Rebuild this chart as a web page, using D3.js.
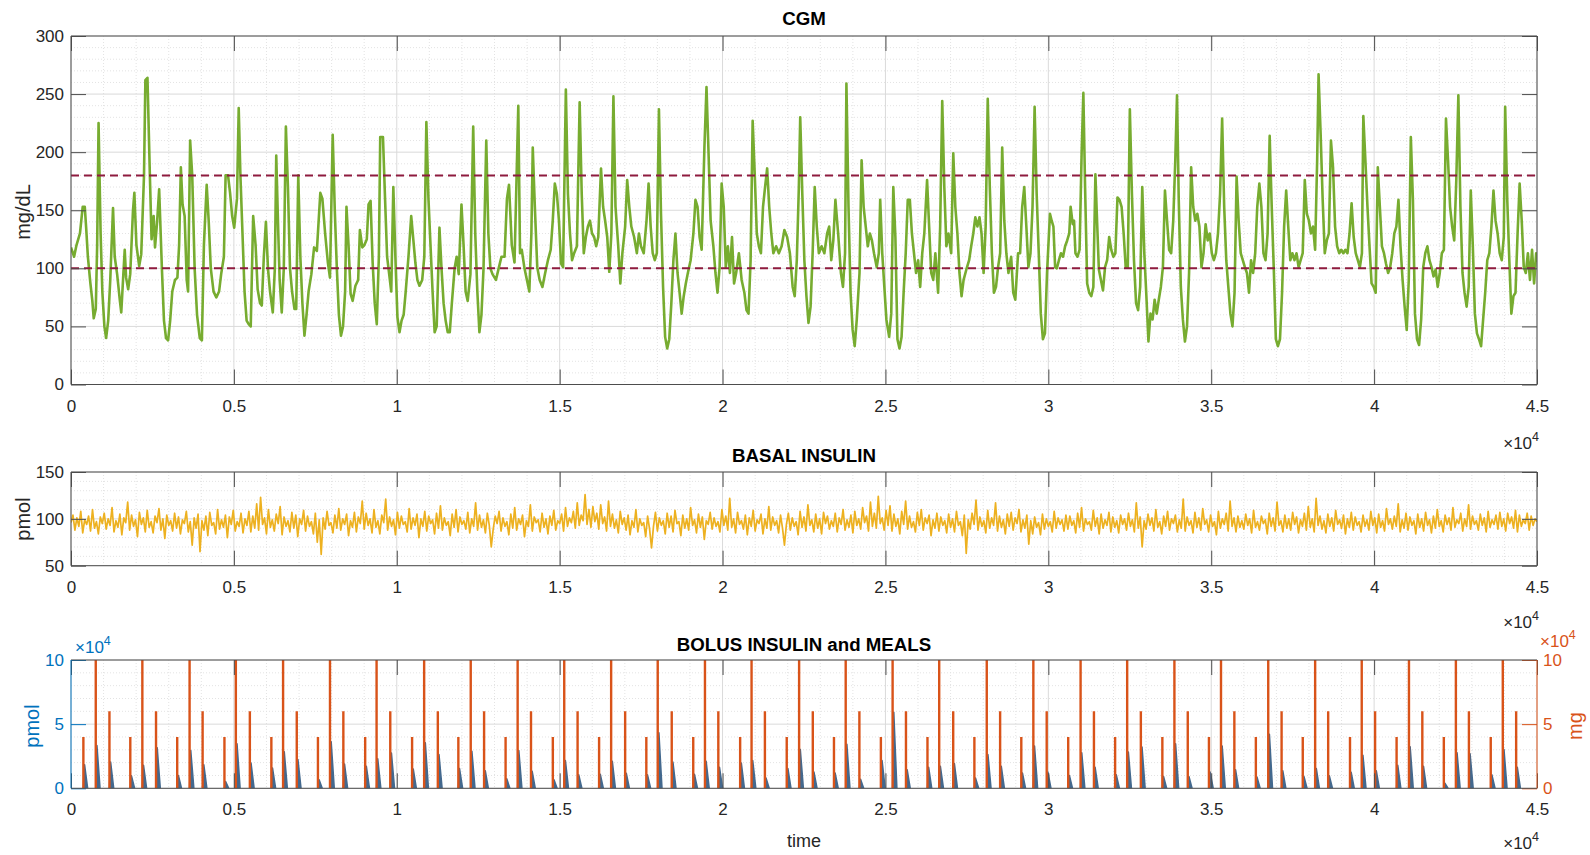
<!DOCTYPE html>
<html>
<head>
<meta charset="utf-8">
<script src="https://cdn.jsdelivr.net/npm/d3@7"></script>
<style>
  body { margin: 0; background: #fff; }
  svg text { font-family: "Liberation Sans", Arial, Helvetica, sans-serif; }
</style>
</head>
<body>
<script>
// ---- data (time in minutes) ----
var tMax = 45000;
var xTicks = [0, 5000, 10000, 15000, 20000, 25000, 30000, 35000, 40000, 45000];
var cgmTicks = [0, 50, 100, 150, 200, 250, 300];
var basalTicks = [50, 100, 150];
var bolusTicks = [0, 50000, 100000];
var targetRange = [100, 180];

// CGM trace, [time, mg/dL]
var cgm = [[0,118],[95,110],[169,120],[275,130],[359,153],[423,153],[465,135],[518,110],[592,88],[655,72],[698,57],[761,65],[803,120],[846,225],[909,130],[962,80],[1025,50],[1078,40],[1142,55],[1205,90],[1290,152],[1342,110],[1416,95],[1501,72],[1543,62],[1607,95],[1649,116],[1691,92],[1755,82],[1818,95],[1903,150],[1945,165],[2008,120],[2093,102],[2156,112],[2241,180],[2283,262],[2347,264],[2421,180],[2473,125],[2537,145],[2579,118],[2643,140],[2706,168],[2790,100],[2854,55],[2917,40],[2981,38],[3044,55],[3108,80],[3192,90],[3266,92],[3319,120],[3372,187],[3425,155],[3488,145],[3552,90],[3594,80],[3657,210],[3721,180],[3795,100],[3869,60],[3953,40],[4017,38],[4080,120],[4165,172],[4228,140],[4291,100],[4376,80],[4461,75],[4545,80],[4609,95],[4693,110],[4746,180],[4820,180],[4883,165],[4947,145],[5010,135],[5095,160],[5148,238],[5200,180],[5264,130],[5327,80],[5391,55],[5454,52],[5517,50],[5592,145],[5666,120],[5729,82],[5803,70],[5856,68],[5919,110],[5983,140],[6046,100],[6110,80],[6194,62],[6257,100],[6300,197],[6363,130],[6405,90],[6469,62],[6532,100],[6596,222],[6659,170],[6722,100],[6786,80],[6860,65],[6913,65],[6976,180],[7040,110],[7103,70],[7166,42],[7230,60],[7293,80],[7378,95],[7462,118],[7547,115],[7653,165],[7716,160],[7801,130],[7885,105],[7949,92],[8033,215],[8097,150],[8160,100],[8223,60],[8287,42],[8350,50],[8414,80],[8456,153],[8519,120],[8583,78],[8646,72],[8731,85],[8815,90],[8868,133],[8942,118],[9006,120],[9080,125],[9133,155],[9196,158],[9259,105],[9323,70],[9386,52],[9450,110],[9492,213],[9576,213],[9640,160],[9703,110],[9767,95],[9830,80],[9894,170],[9957,110],[10020,58],[10084,45],[10147,55],[10211,60],[10274,80],[10359,110],[10443,145],[10507,125],[10570,105],[10633,90],[10697,85],[10781,90],[10845,110],[10908,226],[10972,160],[11035,120],[11099,80],[11162,45],[11225,50],[11310,135],[11373,100],[11437,70],[11500,55],[11564,45],[11627,45],[11691,70],[11775,100],[11838,110],[11902,95],[11986,155],[12050,120],[12113,80],[12177,72],[12261,95],[12346,222],[12409,130],[12473,80],[12536,45],[12599,60],[12663,100],[12747,210],[12811,130],[12874,100],[12938,95],[13043,90],[13128,100],[13213,110],[13308,110],[13382,160],[13445,172],[13530,120],[13614,105],
  [13730,240],[13783,113],[13836,116],[13920,100],[13995,90],[14069,80],[14132,130],[14174,204],[14238,153],[14312,101],[14386,90],[14471,84],[14555,96],[14640,107],[14725,116],[14788,141],[14851,173],[14915,164],[14978,141],[15042,104],[15105,101],[15190,254],[15254,164],[15317,130],[15380,107],[15444,113],[15529,119],[15613,243],[15677,164],[15740,113],[15804,127],[15867,136],[15931,141],[15994,130],[16058,127],[16121,119],[16185,127],[16269,186],[16333,153],[16396,141],[16460,127],[16523,97],[16587,130],[16650,248],[16714,153],[16798,119],[16862,87],[16925,113],[17010,136],[17073,176],[17137,153],[17200,136],[17285,127],[17370,113],[17433,130],[17496,119],[17581,113],[17666,141],[17729,173],[17793,136],[17856,113],[17920,107],[17983,113],[18047,237],[18110,147],[18174,84],[18237,41],[18301,31],[18364,39],[18428,70],[18491,107],[18554,130],[18618,96],[18681,79],[18745,61],[18808,76],[18872,87],[18935,96],[19020,107],[19105,130],[19168,159],[19232,153],[19295,127],[19359,116],[19443,204],[19507,256],[19570,199],[19634,141],[19718,119],[19782,96],[19845,79],[19909,101],[19972,173],[20036,153],[20099,101],[20163,119],[20226,96],[20290,127],[20353,87],[20417,96],[20501,113],[20586,90],[20670,79],[20734,64],[20797,61],[20861,107],[20924,227],[20988,181],[21051,130],[21115,119],[21178,113],[21242,153],[21305,170],[21369,186],[21432,153],[21496,130],[21559,113],[21644,119],[21728,113],[21813,119],[21898,133],[21982,127],[22067,113],[22152,84],[22215,76],[22279,107],[22342,170],[22384,230],[22448,164],[22511,107],[22575,76],[22638,53],[22702,67],[22765,113],[22829,170],[22892,136],[22956,113],[23040,119],[23125,113],[23210,130],[23273,136],[23337,107],[23400,124],[23464,159],[23548,130],[23633,96],[23696,84],[23760,113],[23802,259],[23866,153],[23929,79],[23993,47],[24056,33],[24120,56],[24204,96],[24268,193],[24331,153],[24395,136],[24458,119],[24522,130],[24585,124],[24649,113],[24733,101],[24797,113],[24839,159],[24902,113],[24966,84],[25029,56],[25114,41],[25178,61],[25241,170],[25305,127],[25368,39],[25431,31],[25495,41],[25558,79],[25622,113],[25685,159],[25749,159],[25812,130],[25876,113],[25939,96],[26003,107],[26066,84],[26130,113],[26193,130],[26278,176],[26341,136],[26405,96],[26468,90],[26532,113],[26616,79],[26680,136],[26743,244],[26807,170],[26870,119],[26934,130],[27018,113],[27082,199],[27145,153],[27209,130],[27272,96],[27336,76],[27399,90],[27484,99],[27569,107],[27632,119],[27696,130],[27759,144],[27823,136],[27886,144],[27950,130],[28013,96],[28076,136],[28140,246],[28203,170],[28267,113],[28330,79],[28394,84],[28457,101],[28521,113],[28584,204],[28648,141],[28711,113],[28775,96],[28859,110],[28923,79],[28986,73],[29071,113],[29134,113],[29198,153],[29261,170],[29325,136],[29388,101],[29452,113],[29515,153],[29579,239],[29642,164],[29706,113],[29769,61],[29833,39],[29896,44],[29960,96],
  [30050,147],[30103,141],[30156,136],[30209,101],[30261,100],[30325,107],[30388,113],[30452,110],[30515,119],[30579,124],[30642,130],[30684,153],[30748,138],[30790,141],[30832,113],[30896,110],[30959,116],[31022,199],[31075,251],[31128,170],[31192,87],[31255,79],[31318,76],[31382,84],[31445,181],[31488,147],[31551,99],[31614,90],[31678,81],[31741,101],[31805,107],[31868,127],[31931,116],[31995,110],[32058,113],[32122,161],[32185,159],[32249,153],[32312,130],[32375,101],[32439,101],[32502,237],[32566,164],[32629,107],[32693,70],[32756,64],[32819,84],[32883,170],[32946,113],[33010,76],[33073,37],[33136,61],[33200,56],[33263,73],[33327,61],[33390,73],[33454,84],[33517,101],[33580,167],[33644,141],[33707,116],[33771,113],[33834,141],[33897,193],[33950,249],[34003,159],[34067,84],[34130,56],[34193,37],[34257,50],[34320,96],[34384,187],[34447,153],[34511,141],[34574,147],[34637,136],[34701,101],[34764,113],[34828,138],[34891,124],[34954,130],[35018,113],[35081,107],[35145,113],[35208,130],[35272,164],[35335,229],[35398,153],[35462,107],[35525,84],[35589,61],[35652,50],[35716,79],[35779,179],[35842,141],[35906,113],[35969,107],[36033,101],[36096,96],[36160,79],[36223,107],[36286,96],[36350,113],[36413,153],[36477,173],[36540,153],[36603,113],[36667,107],[36730,130],[36794,214],[36857,153],[36921,99],[36984,39],[37047,33],[37111,39],[37174,79],[37238,136],[37301,167],[37364,136],[37428,107],[37491,113],[37555,107],[37618,113],[37682,101],[37745,107],[37808,113],[37872,176],[37935,147],[37999,141],[38062,130],[38125,136],[38189,116],[38252,193],[38295,267],[38358,216],[38421,159],[38485,113],[38548,124],[38612,130],[38675,210],[38739,187],[38802,136],[38866,119],[38929,113],[38992,116],[39056,113],[39119,116],[39183,113],[39246,130],[39309,156],[39373,127],[39436,113],[39500,107],[39563,101],[39626,113],[39669,231],[39732,193],[39796,153],[39859,119],[39922,87],[39986,84],[40049,79],[40113,187],[40176,153],[40240,119],[40303,113],[40366,104],[40430,96],[40493,101],[40557,113],[40620,130],[40683,136],[40747,159],[40810,119],[40874,90],[40937,67],[41001,47],[41064,90],[41127,213],[41191,159],[41254,61],[41318,39],[41381,34],[41444,56],[41508,101],[41571,113],[41635,119],[41698,107],[41762,101],[41825,93],[41888,99],[41952,84],[42015,96],[42079,113],[42142,116],[42206,229],[42269,193],[42332,153],[42396,136],[42459,124],[42523,176],[42586,249],[42649,153],[42713,96],[42776,79],[42840,67],[42903,84],[42967,167],[43030,119],[43093,61],[43157,44],[43220,39],[43284,33],[43347,56],[43410,79],[43474,107],[43537,113],[43601,136],[43664,167],[43728,141],[43791,130],[43854,113],[43918,107],[43981,127],[44023,239],[44087,159],[44150,107],[44213,61],[44277,76],[44340,79],[44404,130],[44467,173],[44531,141],[44594,101],[44657,96],[44721,113],[44784,90],[44848,116],[44911,87],[44974,113],[45000,105]];

// basal insulin, one reading every basalStep minutes
var basalStep = 60;
var basal = [
  96,104,88,101,92,108,85,99,94,103,87,110,90,97,84,102,95,106,89,100,93,112,86,98,91,105,83,101,96,118,
  88,104,92,99,81,107,94,101,86,109,91,97,85,103,96,111,88,100,79,104,93,98,87,106,90,102,84,99,95,108,
  86,97,72,101,90,105,65,98,88,103,82,107,93,96,84,110,89,99,91,104,80,102,94,109,87,97,92,106,85,100,
  93,108,86,103,90,116,88,123,94,101,84,110,91,99,87,105,95,113,83,102,92,98,86,107,90,104,81,100,94,109,
  87,103,92,97,84,106,75,99,62,101,89,108,93,96,85,104,90,111,88,100,94,105,82,98,91,107,86,102,95,119,
  89,106,93,100,85,110,91,98,84,104,96,121,88,102,92,99,83,107,90,103,94,97,86,111,89,101,93,105,80,100,
  92,108,87,103,95,99,84,106,90,114,88,101,93,97,82,105,91,110,86,102,94,98,89,107,85,100,92,117,88,104,
  91,99,85,106,93,70,89,103,95,108,87,101,92,97,83,105,90,112,88,100,94,104,81,98,92,115,87,102,96,99,
  86,106,91,100,84,103,93,109,88,98,95,105,87,112,92,101,96,108,90,117,93,104,98,126,94,110,91,113,97,106,
  89,115,95,102,87,119,92,105,90,99,85,108,94,101,88,104,83,98,91,110,86,100,93,96,81,103,89,69,92,107,
  87,101,93,98,84,106,91,103,86,109,95,97,82,104,90,100,88,112,93,99,85,105,91,102,78,98,94,107,89,101,
  92,97,86,110,93,103,88,122,91,100,85,107,94,98,89,104,83,101,92,109,87,99,95,105,84,100,90,113,88,102,
  93,98,85,104,90,72,94,106,88,101,92,97,83,108,91,102,87,115,93,99,86,105,90,100,84,107,95,103,89,98,
  92,106,86,101,94,110,88,99,91,104,85,108,93,100,89,112,96,103,87,118,92,106,90,124,95,101,88,109,93,114,
  87,105,92,100,84,108,94,119,89,103,91,97,86,107,93,110,88,101,95,104,82,99,90,106,87,102,93,98,85,105,
  91,100,86,108,93,97,82,104,63,99,89,106,94,120,88,102,92,98,85,109,90,101,93,117,87,103,91,99,84,105,
  92,107,88,101,95,110,86,99,90,104,73,98,84,102,91,96,83,105,89,100,92,97,86,108,90,101,94,99,87,104,
  89,103,93,98,85,106,91,112,87,100,94,97,88,109,92,101,84,105,90,99,93,107,86,102,91,98,85,104,94,100,
  88,106,92,99,86,117,90,102,70,98,89,105,93,101,87,110,91,97,84,103,92,108,88,100,95,104,86,99,90,121,
  87,102,93,98,85,107,91,101,88,111,94,99,86,104,92,97,83,108,90,100,94,106,87,119,92,101,86,103,91,98,
  89,105,93,100,85,109,91,97,88,103,95,99,84,106,92,101,87,118,93,98,86,104,90,100,88,107,94,102,85,99,
  92,106,88,113,91,100,86,122,93,103,89,98,85,105,92,101,87,109,94,99,90,104,84,100,91,107,88,102,93,97,
  86,104,92,99,88,108,93,101,85,105,91,98,87,111,94,100,89,103,92,116,86,99,90,106,88,102,93,98,84,105,
  91,100,87,107,93,99,85,103,90,110,92,98,86,104,94,101,88,112,91,99,95,106,87,100,92,115,89,103,94,98,
  88,105,93,101,86,108,91,99,94,104,89,107,92,100,87,106,95,102,90,109,86,104,92,99,95,106,88,103,93,100,
  97
];

// meals (mg) and bolus insulin (pmol), one row per day
var mealTimes = [
  380,760,1180, 1820,2190,2610, 3260,3640,4040, 4710,5060,5490,
  6150,6510,6930, 7580,7950,8360, 9030,9380,9800, 10470,10840,11260,
  11890,12270,12680, 13340,13710,14120, 14790,15140,15550, 16210,16580,17010,
  17660,18010,18440, 19100,19460,19870, 20540,20890,21300, 21970,22350,22770,
  23420,23780,24200, 24860,25220,25630, 26290,26650,27080, 27730,28110,28520,
  29170,29540,29950, 30610,30990,31400, 32050,32420,32840, 33500,33870,34280,
  34930,35300,35710, 36370,36750,37160, 37810,38190,38590, 39260,39620,40030,
  40690,41070,41480, 42140,42510,42910, 43580,43950,44360
];
var mealAmounts = [
  40000,100000,60000, 40000,100000,60000, 40000,100000,60000, 40000,100000,60000,
  40000,100000,60000, 40000,100000,60000, 40000,100000,60000, 40000,100000,60000,
  40000,100000,60000, 40000,100000,60000, 40000,100000,60000, 40000,100000,60000,
  40000,100000,60000, 40000,100000,60000, 40000,100000,60000, 40000,100000,60000,
  40000,100000,60000, 40000,100000,60000, 40000,100000,60000, 40000,100000,60000,
  40000,100000,60000, 40000,100000,60000, 40000,100000,60000, 40000,100000,60000,
  40000,100000,60000, 40000,100000,60000, 40000,100000,60000, 40000,100000,60000,
  40000,100000,60000, 40000,100000,60000, 40000,100000,60000
];
var bolusAmounts = [
  18400,33400,20500, 9700,17900,31600, 10000,29500,18400, 5300,34700,19700,
  15800,28400,22400, 6600,36300,18900, 17100,22900,27400, 15000,35500,26300,
  15300,28900,13700, 7400,29500,13200, 6600,21600,10500, 11000,21000,11600,
  10500,43200,20500, 11000,21000,16300, 19700,21600,7900, 15300,30300,12600,
  11800,34200,7100, 21600,59200,14500, 16300,17100,19200, 7900,26300,17100,
  11800,32900,12600, 10000,27600,16300, 10500,28200,32100, 9200,34700,9200,
  12600,32900,14500, 8700,42100,13700, 9200,15300,9700, 12400,25800,13700,
  17900,32400,17100, 3900,27600,26800, 10500,30300,16300
];

// ---- layout ----
var W = 1590, H = 855;
var left = 71, right = 1537, tickLen = 15;
var axisColor = "#4d4d4d", textColor = "#262626";
var blue = "#0072BD", orange = "#D95319";

var svg = d3.select("body").append("svg")
    .attr("width", W)
    .attr("height", H);

var x = d3.scaleLinear().domain([0, tMax]).range([left, right]);

function panel(top, bottom, yDomain, yMajor, yMinorStep, id) {
  var y = d3.scaleLinear().domain(yDomain).range([bottom, top]);
  var g = svg.append("g");
  var xMinor = d3.range(0, tMax + 1, 1000).filter(function(d) { return d % 5000 !== 0; });
  var yMinor = d3.range(yDomain[0], yDomain[1] + 1e-9, yMinorStep).filter(function(d) { return yMajor.indexOf(d) < 0; });

  g.append("g").selectAll("line").data(xMinor).enter().append("line")
      .attr("x1", x).attr("x2", x).attr("y1", top).attr("y2", bottom)
      .attr("stroke", "#e3e3e3").attr("stroke-dasharray", "1,2");
  g.append("g").selectAll("line").data(yMinor).enter().append("line")
      .attr("x1", left).attr("x2", right).attr("y1", y).attr("y2", y)
      .attr("stroke", "#e3e3e3").attr("stroke-dasharray", "1,2");
  g.append("g").selectAll("line").data(xTicks).enter().append("line")
      .attr("x1", x).attr("x2", x).attr("y1", top).attr("y2", bottom)
      .attr("stroke", "#dadada");
  g.append("g").selectAll("line").data(yMajor).enter().append("line")
      .attr("x1", left).attr("x2", right).attr("y1", y).attr("y2", y)
      .attr("stroke", "#dadada");

  svg.append("clipPath").attr("id", id)
    .append("rect").attr("x", left).attr("y", top).attr("width", right - left).attr("height", bottom - top);
  var plot = svg.append("g").attr("clip-path", "url(#" + id + ")");
  return {y: y, g: g, plot: plot, top: top, bottom: bottom};
}

function styleAxis(sel, color) {
  sel.select(".domain").remove();
  sel.selectAll("line").attr("stroke", color);
  sel.selectAll("text").attr("fill", color === axisColor ? textColor : color)
      .style("font-size", "17px");
}

function frame(p, yFmt, leftColor, rightColor, rightLabels) {
  var ax = svg.append("g");
  ax.append("g").attr("transform", "translate(0," + p.bottom + ")")
      .call(d3.axisBottom(x).tickValues(xTicks).tickSize(-tickLen).tickPadding(15)
          .tickFormat(function(d) { return d / 1e4; }))
      .call(styleAxis, axisColor);
  ax.append("g").attr("transform", "translate(0," + p.top + ")")
      .call(d3.axisTop(x).tickValues(xTicks).tickSize(-tickLen).tickFormat(""))
      .call(styleAxis, axisColor);
  ax.append("g").attr("transform", "translate(" + left + ",0)")
      .call(d3.axisLeft(p.y).tickValues(p.yTicks).tickSize(-tickLen).tickPadding(7).tickFormat(yFmt))
      .call(styleAxis, leftColor);
  ax.append("g").attr("transform", "translate(" + right + ",0)")
      .call(d3.axisRight(rightLabels ? rightLabels.scale : p.y)
          .tickValues(rightLabels ? rightLabels.ticks : p.yTicks).tickSize(-tickLen).tickPadding(6)
          .tickFormat(rightLabels ? rightLabels.fmt : ""))
      .call(styleAxis, rightColor);
  // box
  ax.append("line").attr("x1", left).attr("x2", right).attr("y1", p.top).attr("y2", p.top).attr("stroke", axisColor);
  ax.append("line").attr("x1", left).attr("x2", right).attr("y1", p.bottom).attr("y2", p.bottom).attr("stroke", axisColor);
  ax.append("line").attr("x1", left).attr("x2", left).attr("y1", p.top).attr("y2", p.bottom).attr("stroke", leftColor);
  ax.append("line").attr("x1", right).attr("x2", right).attr("y1", p.top).attr("y2", p.bottom).attr("stroke", rightColor);
}

function title(txt, yb) {
  svg.append("text").attr("x", (left + right) / 2).attr("y", yb)
      .attr("text-anchor", "middle").style("font-size", "18.7px").style("font-weight", "bold")
      .attr("fill", "#000").text(txt);
}

function ylabel(txt, xb, yc, color) {
  svg.append("text").attr("transform", "translate(" + xb + "," + yc + ") rotate(-90)")
      .attr("text-anchor", "middle").style("font-size", "20px").attr("fill", color).text(txt);
}

function expLabel(xp, yb, color, anchor) {
  var t = svg.append("text").attr("x", xp).attr("y", yb)
      .attr("text-anchor", anchor).attr("fill", color).style("font-size", "17px");
  t.append("tspan").text("\u00d710");
  t.append("tspan").attr("dy", -8).style("font-size", "12.5px").text("4");
}

// ---- CGM ----
var p1 = panel(36, 384.5, [0, 300], cgmTicks, 10, "c1");
p1.yTicks = cgmTicks;
var cgmLine = d3.line()
    .x(function(d) { return x(d[0]); })
    .y(function(d) { return p1.y(d[1]); });
p1.plot.append("path").datum(cgm)
    .attr("d", cgmLine)
    .attr("fill", "none").attr("stroke", "#77AC30").attr("stroke-width", 2.6)
    .attr("stroke-linejoin", "round");
p1.plot.selectAll(".bound").data(targetRange).enter().append("line")
    .attr("x1", left).attr("x2", right).attr("y1", p1.y).attr("y2", p1.y)
    .attr("stroke", "#8E1B3E").attr("stroke-width", 2).attr("stroke-dasharray", "8,5");
frame(p1, function(d) { return d; }, axisColor, axisColor);
title("CGM", 25);
ylabel("mg/dL", 30, 212, textColor);
expLabel(1539, 449, textColor, "end");

// ---- BASAL INSULIN ----
var p2 = panel(472, 565.7, [50, 150], basalTicks, 10, "c2");
p2.yTicks = basalTicks;
var basalLine = d3.line()
    .x(function(d, i) { return x(i * basalStep); })
    .y(function(d) { return p2.y(d); });
p2.plot.append("path").datum(basal)
    .attr("d", basalLine)
    .attr("fill", "none").attr("stroke", "#EDB120").attr("stroke-width", 1.7)
    .attr("stroke-linejoin", "round");
frame(p2, function(d) { return d; }, axisColor, axisColor);
title("BASAL INSULIN", 462);
ylabel("pmol", 30, 519, textColor);
expLabel(1539, 628, textColor, "end");

// ---- BOLUS INSULIN and MEALS ----
var p3 = panel(660, 788.3, [0, 100000], bolusTicks, 10000, "c3");
p3.yTicks = bolusTicks;
var yMeal = d3.scaleLinear().domain([0, 100000]).range([788.3, 660]);

p3.plot.selectAll(".bolus").data(mealTimes).enter().append("path")
    .attr("d", function(t, i) {
      var h = p3.y(bolusAmounts[i]);
      return "M" + x(t) + "," + p3.y(0) + "L" + x(t + 35) + "," + h + "L" + x(t + 130) + "," + p3.y(0) + "Z";
    })
    .attr("fill", "#44698e").attr("stroke", "#44698e").attr("stroke-width", 1.6)
    .attr("stroke-linejoin", "round");
p3.plot.selectAll(".meal").data(mealTimes).enter().append("line")
    .attr("x1", x).attr("x2", x)
    .attr("y1", yMeal(0)).attr("y2", function(t, i) { return yMeal(mealAmounts[i]); })
    .attr("stroke", orange).attr("stroke-width", 2.4);

frame(p3, function(d) { return d / 1e4; }, blue, orange,
      {scale: yMeal, ticks: bolusTicks, fmt: function(d) { return d / 1e4; }});
title("BOLUS INSULIN and MEALS", 651);
ylabel("pmol", 39, 726, blue);
ylabel("mg", 1582, 726, orange);
expLabel(75, 653, blue, "start");
expLabel(1540, 647, orange, "start");
expLabel(1539, 849, textColor, "end");
svg.append("text").attr("x", (left + right) / 2).attr("y", 847)
    .attr("text-anchor", "middle").style("font-size", "18px").attr("fill", textColor).text("time");
</script>
</body>
</html>
